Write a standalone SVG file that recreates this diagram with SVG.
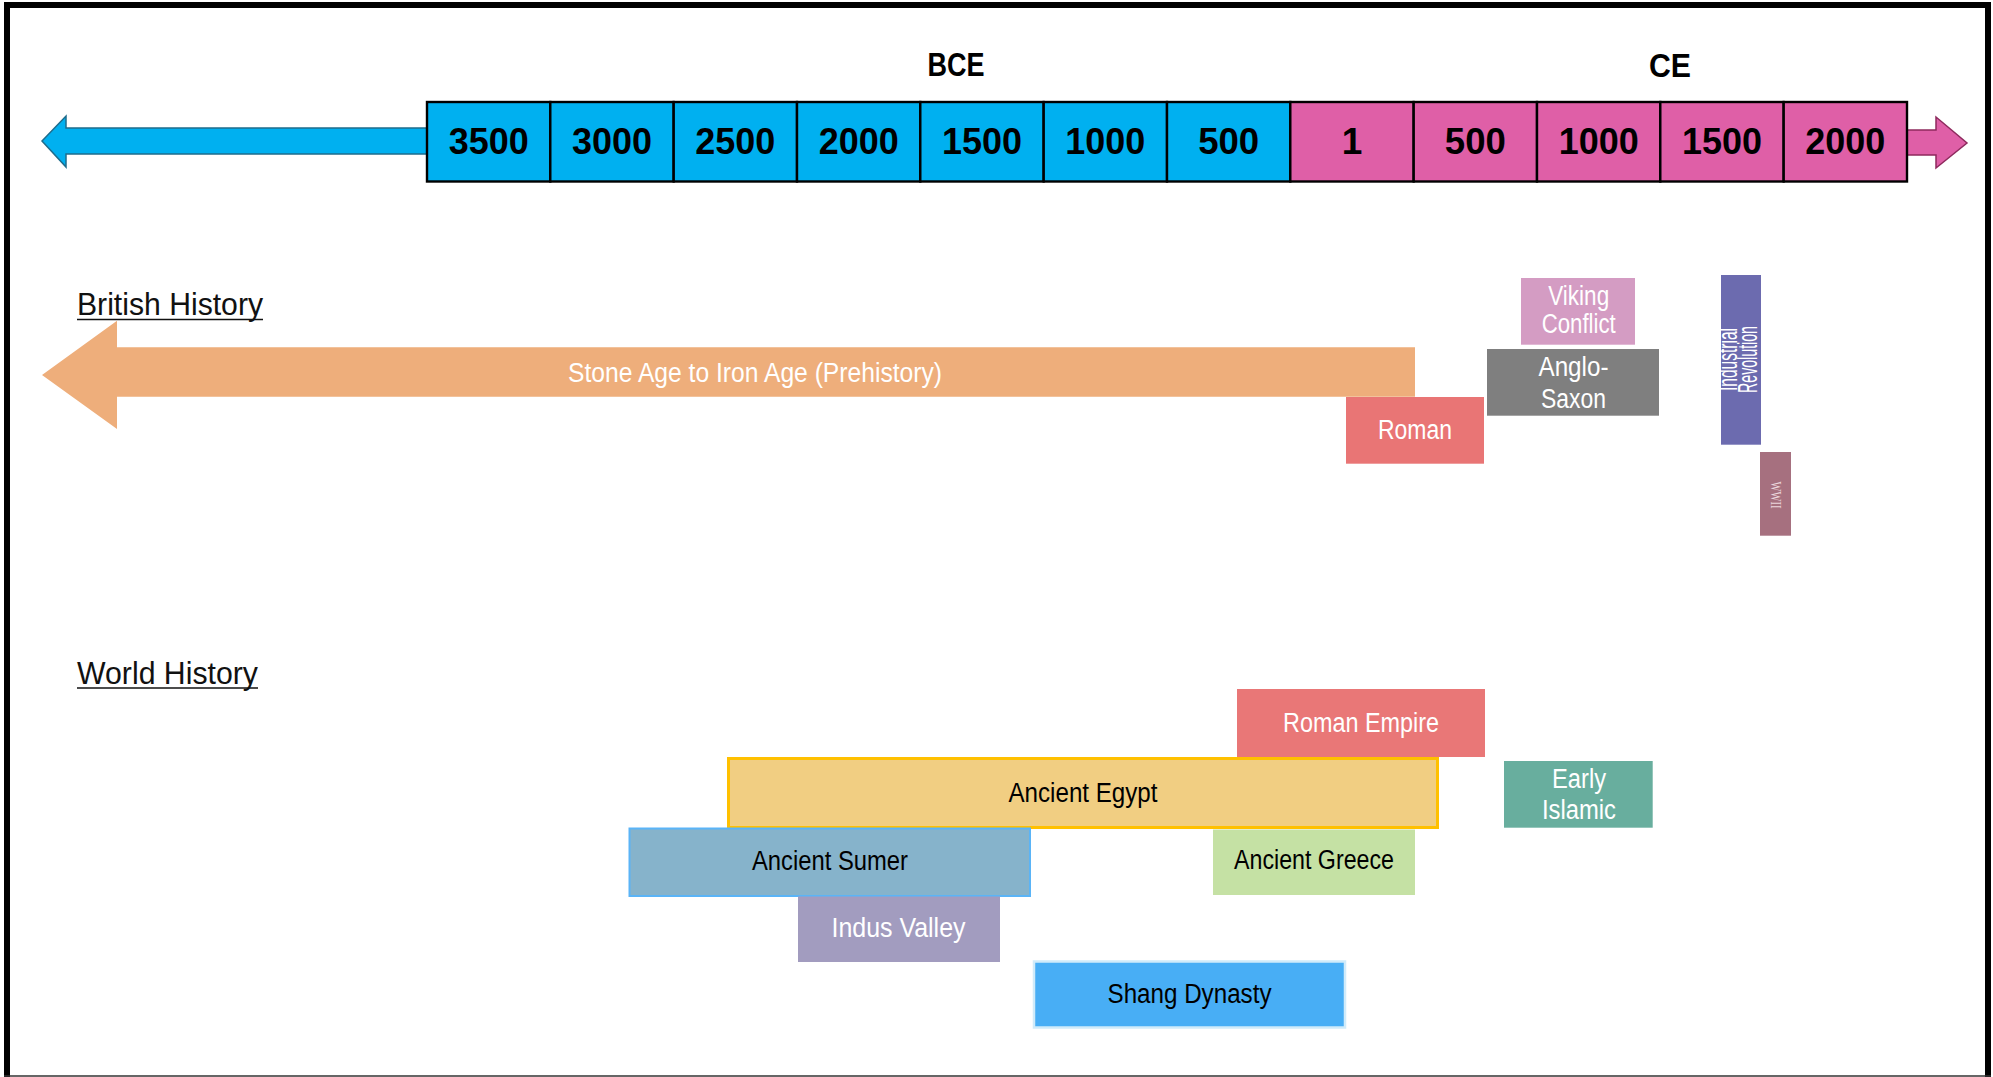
<svg xmlns="http://www.w3.org/2000/svg" width="1993" height="1077" viewBox="0 0 1993 1077">
<style>
.cell{stroke:#000;stroke-width:2.4}
.bce{fill:#00B0F0}
.ce{fill:#DF5FA7}
.num{font-family:"Liberation Sans",Arial,sans-serif;font-weight:bold;font-size:37px;fill:#000;text-anchor:middle}
.era{font-family:"Liberation Sans",Arial,sans-serif;font-weight:bold;font-size:33px;fill:#000;text-anchor:middle}
.head{font-family:"Liberation Sans",Arial,sans-serif;font-size:32px;fill:#111}
.lbl{font-family:"Liberation Sans",Arial,sans-serif;font-size:27px;text-anchor:middle}
.w{fill:#fff}
.k{fill:#000}
</style>
<rect x="7" y="5" width="1981" height="1100" fill="#fff" stroke="#000" stroke-width="6"/>
<line x1="4" y1="1076" x2="1991" y2="1076" stroke="#333" stroke-width="1.5"/>

<g id="timeline">
  <polygon id="arrow-left" points="428,128 66,128 66,116 42,141 66,167 66,154 428,154" fill="#00B0F0" stroke="#1E6C8C" stroke-width="1.5"/>
  <polygon id="arrow-right" points="1907,130 1936,130 1936,117 1967,143 1936,168 1936,155 1907,155" fill="#DF5FA7" stroke="#8E2A5E" stroke-width="1.5"/>
  <g id="cells">
    <rect class="cell bce" x="427" y="102" width="123.3" height="79.5"/>
    <rect class="cell bce" x="550.3" y="102" width="123.3" height="79.5"/>
    <rect class="cell bce" x="673.7" y="102" width="123.3" height="79.5"/>
    <rect class="cell bce" x="797" y="102" width="123.3" height="79.5"/>
    <rect class="cell bce" x="920.3" y="102" width="123.3" height="79.5"/>
    <rect class="cell bce" x="1043.7" y="102" width="123.3" height="79.5"/>
    <rect class="cell bce" x="1167" y="102" width="123.3" height="79.5"/>
    <rect class="cell ce" x="1290.3" y="102" width="123.3" height="79.5"/>
    <rect class="cell ce" x="1413.7" y="102" width="123.3" height="79.5"/>
    <rect class="cell ce" x="1537" y="102" width="123.3" height="79.5"/>
    <rect class="cell ce" x="1660.3" y="102" width="123.3" height="79.5"/>
    <rect class="cell ce" x="1783.7" y="102" width="123.3" height="79.5"/>
  </g>
  <g id="years">
    <text class="num" x="488.7" y="153.5" textLength="80" lengthAdjust="spacingAndGlyphs">3500</text>
    <text class="num" x="612" y="153.5" textLength="80" lengthAdjust="spacingAndGlyphs">3000</text>
    <text class="num" x="735.3" y="153.5" textLength="80" lengthAdjust="spacingAndGlyphs">2500</text>
    <text class="num" x="858.7" y="153.5" textLength="80" lengthAdjust="spacingAndGlyphs">2000</text>
    <text class="num" x="982" y="153.5" textLength="80" lengthAdjust="spacingAndGlyphs">1500</text>
    <text class="num" x="1105.3" y="153.5" textLength="80" lengthAdjust="spacingAndGlyphs">1000</text>
    <text class="num" x="1228.7" y="153.5" textLength="61" lengthAdjust="spacingAndGlyphs">500</text>
    <text class="num" x="1352" y="153.5">1</text>
    <text class="num" x="1475.3" y="153.5" textLength="61" lengthAdjust="spacingAndGlyphs">500</text>
    <text class="num" x="1598.7" y="153.5" textLength="80" lengthAdjust="spacingAndGlyphs">1000</text>
    <text class="num" x="1722" y="153.5" textLength="80" lengthAdjust="spacingAndGlyphs">1500</text>
    <text class="num" x="1845.3" y="153.5" textLength="80" lengthAdjust="spacingAndGlyphs">2000</text>
  </g>
  <text class="era" x="956" y="76" textLength="57" lengthAdjust="spacingAndGlyphs">BCE</text>
  <text class="era" x="1670" y="77" textLength="42" lengthAdjust="spacingAndGlyphs">CE</text>
</g>

<g id="british-history-heading">
  <text class="head" x="77" y="315" textLength="186" lengthAdjust="spacingAndGlyphs">British History</text>
  <line x1="77" y1="319.5" x2="263" y2="319.5" stroke="#111" stroke-width="1.6"/>
</g>
<g id="world-history-heading">
  <text class="head" x="77" y="684" textLength="181" lengthAdjust="spacingAndGlyphs">World History</text>
  <line x1="77" y1="688" x2="258" y2="688" stroke="#111" stroke-width="1.6"/>
</g>

<g id="stone-age">
  <polygon points="1415,347.3 117,347.3 117,320.7 42,375 117,429 117,396.7 1415,396.7" fill="#EEAE7B"/>
  <text class="lbl w" x="755" y="381.7" font-size="28" textLength="374" lengthAdjust="spacingAndGlyphs">Stone Age to Iron Age (Prehistory)</text>
</g>
<g id="roman">
  <rect x="1346" y="397" width="138" height="66.7" fill="#E97575"/>
  <text class="lbl w" x="1415" y="439.3" font-size="28" textLength="74" lengthAdjust="spacingAndGlyphs">Roman</text>
</g>
<g id="anglo-saxon">
  <rect x="1487" y="349" width="172" height="66.7" fill="#7F7F7F"/>
  <text class="lbl w" x="1573.5" y="376" font-size="27" textLength="70" lengthAdjust="spacingAndGlyphs">Anglo-</text>
  <text class="lbl w" x="1573.5" y="407.7" font-size="27" textLength="65" lengthAdjust="spacingAndGlyphs">Saxon</text>
</g>
<g id="viking-conflict">
  <rect x="1521" y="278" width="114" height="66.7" fill="#D49CC3"/>
  <text class="lbl w" x="1578.7" y="305" font-size="24" textLength="61" lengthAdjust="spacingAndGlyphs">Viking</text>
  <text class="lbl w" x="1578.7" y="333.3" font-size="24" textLength="74" lengthAdjust="spacingAndGlyphs">Conflict</text>
</g>
<g id="industrial-revolution">
  <rect x="1721" y="275" width="40" height="169.7" fill="#6C6BAF"/>
  <text class="lbl w" transform="translate(1737,359.5) rotate(-90)" x="0" y="0" font-size="15" textLength="63" lengthAdjust="spacingAndGlyphs">Industrial</text>
  <text class="lbl w" transform="translate(1756.5,359.5) rotate(-90)" x="0" y="0" font-size="15" textLength="67" lengthAdjust="spacingAndGlyphs">Revolution</text>
</g>
<g id="wwii">
  <rect x="1760" y="452" width="31" height="83.7" fill="#A6707F"/>
  <text transform="translate(1771,495) rotate(90)" x="0" y="0" font-family="'Liberation Serif','Times New Roman',serif" font-size="14" fill="#EBD6DC" text-anchor="middle" textLength="27" lengthAdjust="spacingAndGlyphs">WWII</text>
</g>

<g id="roman-empire">
  <rect x="1237" y="689" width="248" height="68" fill="#E97777"/>
  <text class="lbl w" x="1361" y="731.7" textLength="156" lengthAdjust="spacingAndGlyphs">Roman Empire</text>
</g>
<g id="ancient-egypt">
  <rect x="728.5" y="758.5" width="709" height="69" fill="#F1CE82" stroke="#FFC000" stroke-width="3"/>
  <text class="lbl k" x="1083" y="801.7" textLength="149" lengthAdjust="spacingAndGlyphs">Ancient Egypt</text>
</g>
<g id="ancient-sumer">
  <rect x="629.5" y="828.5" width="400.5" height="67.5" fill="#86B3CB" stroke="#5AB4F7" stroke-width="2"/>
  <text class="lbl k" x="830" y="870" textLength="156" lengthAdjust="spacingAndGlyphs">Ancient Sumer</text>
</g>
<g id="ancient-greece">
  <rect x="1213" y="829.5" width="202" height="65.5" fill="#C5E1A4"/>
  <text class="lbl k" x="1314" y="869" textLength="160" lengthAdjust="spacingAndGlyphs">Ancient Greece</text>
</g>
<g id="indus-valley">
  <rect x="798" y="896.5" width="202" height="65.5" fill="#A29CBF"/>
  <text class="lbl w" x="898.5" y="937" textLength="134" lengthAdjust="spacingAndGlyphs">Indus Valley</text>
</g>
<g id="shang-dynasty">
  <rect x="1034" y="961.5" width="311" height="66" fill="#48AEF5" stroke="#D0EBFA" stroke-width="2.5"/>
  <text class="lbl k" x="1189.5" y="1003" textLength="164" lengthAdjust="spacingAndGlyphs">Shang Dynasty</text>
</g>
<g id="early-islamic">
  <rect x="1504" y="761" width="148.7" height="66.7" fill="#68AE9E"/>
  <text class="lbl w" x="1579" y="788.3" textLength="54" lengthAdjust="spacingAndGlyphs">Early</text>
  <text class="lbl w" x="1579" y="819.3" textLength="74" lengthAdjust="spacingAndGlyphs">Islamic</text>
</g>
<g id="connectors"></g>
</svg>
